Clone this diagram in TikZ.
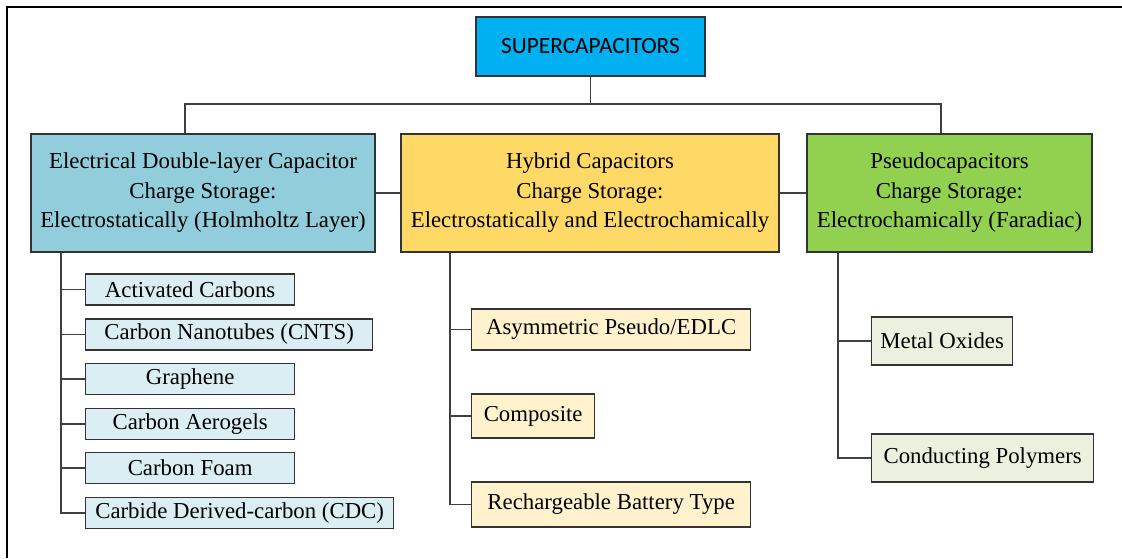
\documentclass[tikz,border=0pt]{standalone}
\usepackage{fontspec}
\setmainfont{Liberation Serif}
\newfontfamily\serifface{Liberation Serif}
\newfontfamily\calfont{Carlito}
\usetikzlibrary{positioning}
\definecolor{topblue}{HTML}{00B0F0}
\definecolor{edlcblue}{HTML}{92CDDC}
\definecolor{hybridgold}{HTML}{FFD966}
\definecolor{pseudogreen}{HTML}{92D050}
\definecolor{leafblue}{HTML}{DAEEF3}
\definecolor{leafgold}{HTML}{FFF2CC}
\definecolor{leafgreen}{HTML}{EBF1DE}

\begin{document}
\begin{tikzpicture}[x=1pt,y=-1pt,font=\serifface\fontsize{22.8}{29.5}\selectfont,box/.style={draw=black!80, line width=1.3pt, align=center, inner sep=1pt},leaf/.style={box, anchor=west, font=\serifface\fontsize{22.8}{26}\selectfont},link/.style={draw=black!75, line width=1.3pt}]
\useasboundingbox (0,0) rectangle (1122,558);
\draw[line width=2pt] (7,558) -- (7,7) -- (1122,7);
\node[box, fill=topblue, minimum width=229pt, minimum height=59pt, font=\calfont\fontsize{23.3}{26}\selectfont] (top) at (590.5,46.5) {SUPERCAPACITORS};
\node[box, fill=edlcblue, minimum width=344pt, minimum height=118pt] (edlc) at (203,193) {Electrical Double-layer Capacitor\\Charge Storage:\\Electrostatically (Holmholtz Layer)};
\node[box, fill=hybridgold, minimum width=378pt, minimum height=118pt] (hybrid) at (590,193) {Hybrid Capacitors\\Charge Storage:\\Electrostatically and Electrochamically};
\node[box, fill=pseudogreen, minimum width=285pt, minimum height=118pt] (pseudo) at (949.5,193) {Pseudocapacitors\\Charge Storage:\\Electrochamically (Faradiac)};
\coordinate (busl) at (185,104);\coordinate (busr) at (941,104);
\draw[link] (top) -- (top |- busl);
\draw[link] (edlc.north -| busl) -- (busl) -- (busr) -- (pseudo.north -| busr);
\draw[link] (edlc) -- (hybrid);\draw[link] (hybrid) -- (pseudo);
\node[leaf, fill=leafblue, minimum width=209pt, minimum height=31pt] (actc) at (85,289.5) {Activated Carbons};
\node[leaf, fill=leafblue, minimum width=287pt, minimum height=31pt] (cnts) at (85,334.5) {Carbon Nanotubes (CNTS)};
\node[leaf, fill=leafblue, minimum width=209pt, minimum height=31pt] (graph) at (85,379) {Graphene};
\node[leaf, fill=leafblue, minimum width=209pt, minimum height=31pt] (aero) at (85,424) {Carbon Aerogels};
\node[leaf, fill=leafblue, minimum width=209pt, minimum height=31pt] (foam) at (85,468) {Carbon Foam};
\node[leaf, fill=leafblue, minimum width=308pt, minimum height=31pt] (cdc) at (85,513) {Carbide Derived-carbon (CDC)};
\coordinate (ltrunk) at (61,0);
\draw[link] (edlc.south -| ltrunk) |- (cdc.west);
\draw[link] (ltrunk |- actc) -- (actc.west);\draw[link] (ltrunk |- cnts) -- (cnts.west);\draw[link] (ltrunk |- graph) -- (graph.west);
\draw[link] (ltrunk |- aero) -- (aero.west);\draw[link] (ltrunk |- foam) -- (foam.west);
\node[leaf, fill=leafgold, minimum width=279pt, minimum height=41pt] (asym) at (471,329.5) {Asymmetric Pseudo/EDLC};
\node[leaf, fill=leafgold, minimum width=123pt, minimum height=44pt] (comp) at (471,416) {Composite};
\node[leaf, fill=leafgold, minimum width=279pt, minimum height=45pt] (batt) at (471,504.5) {Rechargeable Battery Type};
\coordinate (mtrunk) at (450,0);
\draw[link] (hybrid.south -| mtrunk) |- (batt.west);
\draw[link] (mtrunk |- asym) -- (asym.west);\draw[link] (mtrunk |- comp) -- (comp.west);
\node[leaf, fill=leafgreen, minimum width=141pt, minimum height=48pt] (oxide) at (871,341) {Metal Oxides};
\node[leaf, fill=leafgreen, minimum width=222pt, minimum height=48pt] (poly) at (871,458) {Conducting Polymers};
\coordinate (rtrunk) at (838,0);
\draw[link] (pseudo.south -| rtrunk) |- (poly.west);
\draw[link] (rtrunk |- oxide) -- (oxide.west);
\end{tikzpicture}
\end{document}
